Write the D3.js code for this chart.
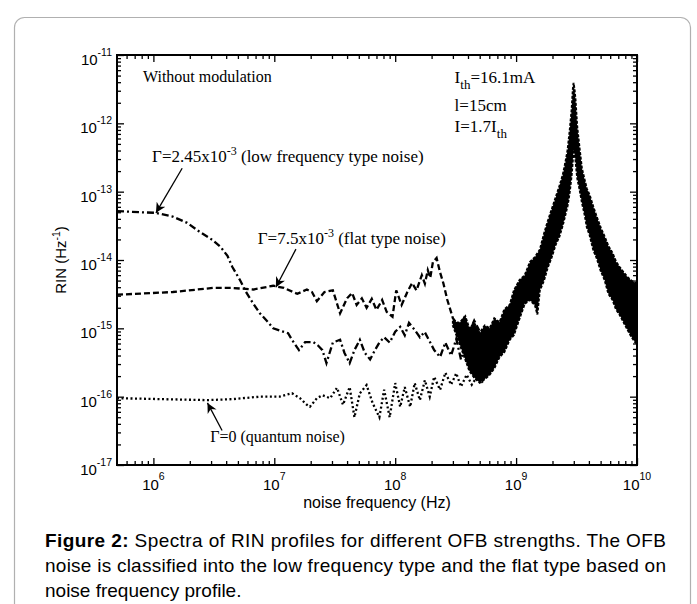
<!DOCTYPE html>
<meta charset="utf-8">
<html lang="en">
<head>
  <script src="https://cdn.jsdelivr.net/npm/d3@7"></script>
  <style>
    body { margin: 0; background: #fff; }
    svg { display: block; }
    .sans { font-family: Arial, "Liberation Sans", sans-serif; }
    .serif { font-family: "Times New Roman", "Liberation Serif", serif; }
  </style>
</head>
<body>
<svg id="fig" width="697" height="604"></svg>
<script>
  // values: [frequency Hz, RIN 1/Hz]
  const lowFreqType = [
    [5.0e5, 5.2e-14], [7.8e5, 5.0e-14], [1.05e6, 4.9e-14], [1.45e6, 4.3e-14], [1.9e6, 3.5e-14],
    [2.4e6, 2.6e-14], [3.1e6, 1.95e-14], [3.6e6, 1.55e-14], [4.1e6, 1.15e-14], [4.5e6, 7.9e-15],
    [5.2e6, 5.1e-15], [5.9e6, 3.3e-15], [6.7e6, 2.3e-15], [7.6e6, 1.66e-15], [8.7e6, 1.28e-15],
    [9.8e6, 1.0e-15], [1.15e7, 9.1e-16], [1.3e7, 8.5e-16], [1.4e7, 6.8e-16], [1.6e7, 4.8e-16],
    [1.8e7, 6.3e-16], [2.1e7, 6.3e-16], [2.3e7, 5.6e-16], [2.5e7, 4.8e-16], [2.7e7, 3.1e-16],
    [3.05e7, 6.2e-16], [3.5e7, 6.8e-16], [3.8e7, 4.4e-16], [4.2e7, 3.1e-16], [4.6e7, 4.8e-16],
    [5.1e7, 6.8e-16], [5.6e7, 4.4e-16], [6.2e7, 3.5e-16], [6.8e7, 4.8e-16], [7.4e7, 6.2e-16],
    [8.1e7, 7.4e-16], [9.0e7, 6.2e-16], [1.0e8, 8.9e-16], [1.1e8, 1.05e-15], [1.2e8, 7.9e-16],
    [1.3e8, 1.2e-15], [1.45e8, 9.5e-16], [1.6e8, 7.4e-16], [1.75e8, 8.9e-16], [1.95e8, 6.2e-16],
    [2.1e8, 4.8e-16], [2.35e8, 3.8e-16], [2.6e8, 6.2e-16], [2.9e8, 4.0e-16], [3.2e8, 7.0e-16],
    [3.5e8, 3.5e-16], [3.9e8, 6.5e-16], [4.3e8, 3.2e-16], [4.8e8, 5.5e-16]
  ];

  const flatType = [
    [5.0e5, 3.1e-15], [1.45e6, 3.4e-15], [3.1e6, 3.9e-15], [4.5e6, 3.9e-15], [6.7e6, 3.7e-15],
    [9.8e6, 4.2e-15], [1.2e7, 3.9e-15], [1.55e7, 3.2e-15], [1.86e7, 3.7e-15], [2.05e7, 3.4e-15],
    [2.25e7, 2.5e-15], [2.6e7, 3.4e-15], [3.05e7, 3.6e-15], [3.5e7, 1.66e-15], [4.0e7, 2.75e-15],
    [4.4e7, 3.3e-15], [4.8e7, 2.2e-15], [5.3e7, 2.75e-15], [5.8e7, 2.0e-15], [6.4e7, 2.7e-15],
    [7.0e7, 1.86e-15], [7.8e7, 2.6e-15], [8.5e7, 1.74e-15], [9.5e7, 1.48e-15], [1.02e8, 3.6e-15],
    [1.13e8, 2.2e-15], [1.26e8, 3.4e-15], [1.38e8, 4.6e-15], [1.5e8, 3.6e-15], [1.66e8, 6.0e-15],
    [1.76e8, 4.5e-15], [1.86e8, 7.1e-15], [1.95e8, 5.5e-15], [2.05e8, 9.3e-15], [2.2e8, 1.07e-14],
    [2.35e8, 6.6e-15], [2.5e8, 4.6e-15], [2.7e8, 2.6e-15], [3.0e8, 1.41e-15], [3.4e8, 1.05e-15],
    [3.7e8, 1.4e-15], [4.1e8, 9.0e-16], [4.5e8, 1.3e-15], [5.0e8, 9.0e-16]
  ];

  const quantumType = [
    [5.0e5, 9.5e-17], [2.8e6, 8.9e-17], [4.5e6, 9.2e-17], [7.6e6, 1.0e-16], [1.1e7, 1.0e-16],
    [1.4e7, 1.12e-16], [1.63e7, 9.5e-17], [1.86e7, 7.6e-17], [1.97e7, 7.1e-17], [2.25e7, 9.5e-17],
    [2.5e7, 1.05e-16], [2.9e7, 9.5e-17], [3.3e7, 1.35e-16], [3.7e7, 7.6e-17], [4.2e7, 1.38e-16],
    [4.6e7, 5.0e-17], [5.1e7, 1.12e-16], [5.8e7, 1.48e-16], [6.5e7, 8.1e-17], [7.4e7, 5.0e-17],
    [8.1e7, 1.26e-16], [9.0e7, 5.0e-17], [1.0e8, 1.58e-16], [1.1e8, 7.1e-17], [1.2e8, 1.38e-16],
    [1.33e8, 7.1e-17], [1.45e8, 1.58e-16], [1.6e8, 8.9e-17], [1.76e8, 1.74e-16], [1.93e8, 1.0e-16],
    [2.1e8, 1.95e-16], [2.35e8, 1.26e-16], [2.6e8, 2.24e-16], [2.9e8, 1.5e-16], [3.2e8, 2.2e-16],
    [3.5e8, 1.4e-16], [3.9e8, 2.1e-16], [4.3e8, 1.5e-16], [4.8e8, 2.0e-16], [5.3e8, 1.6e-16]
  ];

  // relaxation-oscillation peak: the three spectra overlap into one noisy band
  const peakFreq = [3.0e8, 3.4e8, 3.8e8, 4.1e8, 4.5e8, 5.0e8, 5.5e8, 6.05e8, 6.6e8, 7.3e8, 8.0e8,
    8.85e8, 9.6e8, 1.07e9, 1.18e9, 1.3e9, 1.43e9, 1.5e9, 1.57e9, 1.7e9, 1.82e9, 1.97e9, 2.12e9,
    2.28e9, 2.43e9, 2.55e9, 2.67e9, 2.78e9, 2.88e9, 2.95e9, 2.99e9, 3.05e9, 3.1e9, 3.2e9, 3.36e9,
    3.5e9, 3.69e9, 3.85e9, 4.06e9, 4.35e9, 4.64e9, 5.0e9, 5.4e9, 5.8e9, 6.28e9, 6.7e9, 7.18e9,
    7.8e9, 8.36e9, 9.0e9, 9.7e9, 1e10];
  const peakHigh = [1.3e-15, 1.2e-15, 1.5e-15, 1.0e-15, 1.2e-15, 8.5e-16, 1.1e-15, 1.0e-15, 1.4e-15,
    1.23e-15, 1.9e-15, 2.2e-15, 3.6e-15, 5.1e-15, 6.0e-15, 9.3e-15, 1.1e-14, 1.25e-14, 1.41e-14,
    2.4e-14, 3.6e-14, 5.5e-14, 8.1e-14, 1.2e-13, 1.74e-13, 2.6e-13, 4.1e-13, 8.0e-13, 1.58e-12,
    3.2e-12, 3.9e-12, 3.0e-12, 2.2e-12, 9.0e-13, 4.1e-13, 2.2e-13, 1.48e-13, 1.1e-13, 8.9e-14,
    6.0e-14, 4.3e-14, 3.0e-14, 2.2e-14, 1.6e-14, 1.26e-14, 9.5e-15, 7.9e-15, 6.5e-15, 5.6e-15,
    5.0e-15, 4.6e-15, 4.5e-15];
  const peakLow = [1.1e-15, 6.0e-16, 3.5e-16, 2.4e-16, 1.9e-16, 1.6e-16, 1.8e-16, 2.1e-16, 2.6e-16,
    3.8e-16, 4.5e-16, 6.8e-16, 8.0e-16, 1.41e-15, 2.3e-15, 2.6e-15, 2.2e-15, 1.6e-15, 3.6e-15,
    5.0e-15, 7.6e-15, 1.1e-14, 1.66e-14, 2.2e-14, 3.2e-14, 4.5e-14, 6.3e-14, 1.0e-13, 1.74e-13,
    3.0e-13, 4.1e-13, 3.5e-13, 2.9e-13, 1.6e-13, 1.05e-13, 7.0e-14, 4.6e-14, 3.0e-14, 2.3e-14,
    1.4e-14, 1.07e-14, 7.0e-15, 5.1e-15, 3.2e-15, 2.6e-15, 1.9e-15, 1.58e-15, 1.2e-15, 9.5e-16,
    7.5e-16, 6.2e-16, 6.0e-16];

  const xDecades = [1e6, 1e7, 1e8, 1e9, 1e10];
  const yDecades = [1e-17, 1e-16, 1e-15, 1e-14, 1e-13, 1e-12, 1e-11];

  const svg = d3.select('#fig');
  const x = d3.scaleLog().domain([5e5, 1e10]).range([117, 637]);
  const y = d3.scaleLog().domain([1e-17, 1e-11]).range([465, 55]);

  // outer rounded frame
  svg.append('rect').attr('x', 14.5).attr('y', 17.5).attr('width', 676).attr('height', 640)
    .attr('rx', 10).attr('fill', 'none').attr('stroke', '#b0b0b0').attr('stroke-width', 1.2);

  // minor ticks between decades
  const minor = (lo, hi) => {
    const out = [];
    for (let e = Math.floor(Math.log10(lo)); e < Math.log10(hi); e++)
      for (let m = 2; m < 10; m++) {
        const v = m * Math.pow(10, e);
        if (v > lo && v < hi) out.push(v);
      }
    return out;
  };
  const xMinor = minor(5e5, 1e10), yMinor = minor(1e-17, 1e-11);

  const ax = svg.append('g').attr('class', 'ax');
  const addAxis = (gen, vals, size, tr) => {
    const g = ax.append('g').attr('transform', tr)
      .call(gen.tickValues(vals).tickSize(size).tickFormat(''));
    g.select('.domain').remove();
    g.selectAll('line').attr('stroke', '#000').attr('stroke-width', 1.3);
  };
  addAxis(d3.axisBottom(x), xDecades, -7, 'translate(0,465)');
  addAxis(d3.axisBottom(x), xMinor, -4, 'translate(0,465)');
  addAxis(d3.axisTop(x), xDecades, -7, 'translate(0,55)');
  addAxis(d3.axisTop(x), xMinor, -4, 'translate(0,55)');
  addAxis(d3.axisLeft(y), yDecades, -7, 'translate(117,0)');
  addAxis(d3.axisLeft(y), yMinor, -4, 'translate(117,0)');
  addAxis(d3.axisRight(y), yDecades, -7, 'translate(637,0)');
  addAxis(d3.axisRight(y), yMinor, -4, 'translate(637,0)');

  // plot box
  svg.append('rect').attr('x', x.range()[0]).attr('y', y.range()[1])
    .attr('width', x.range()[1] - x.range()[0]).attr('height', y.range()[0] - y.range()[1])
    .attr('fill', 'none').attr('stroke', '#000').attr('stroke-width', 2);

  // tick labels 10^n
  const xl = svg.append('g').attr('class', 'sans').attr('font-size', 15);
  xDecades.forEach(v => {
    const t = xl.append('text').attr('x', x(v)).attr('y', 490).attr('text-anchor', 'middle');
    t.append('tspan').text('10');
    t.append('tspan').attr('dy', -10).attr('font-size', 10.5).text(Math.round(Math.log10(v)));
  });
  const yl = svg.append('g').attr('class', 'sans').attr('font-size', 15);
  yDecades.forEach(v => {
    const t = yl.append('text').attr('x', 112).attr('y', y(v) + 10).attr('text-anchor', 'end');
    t.append('tspan').text('10');
    t.append('tspan').attr('dy', -9).attr('font-size', 10.5).text(Math.round(Math.log10(v)));
  });

  svg.append('text').attr('class', 'sans').attr('font-size', 16).attr('text-anchor', 'middle')
    .attr('x', d3.mean(x.range())).attr('y', 508).text('noise frequency (Hz)');
  const yt = svg.append('text').attr('class', 'sans').attr('font-size', 15).attr('text-anchor', 'middle')
    .attr('transform', `translate(66,${d3.mean(y.range())}) rotate(-90)`);
  yt.append('tspan').text('RIN (Hz');
  yt.append('tspan').attr('dy', -6).attr('font-size', 10.5).text('-1');
  yt.append('tspan').attr('dy', 6).text(')');

  // data
  const plot = svg.append('g');
  const line = d3.line().x(d => x(d[0])).y(d => y(d[1]));
  const styles = [
    [lowFreqType, '7,3,2,3'],
    [flatType, '6,3'],
    [quantumType, '2,2.5']
  ];
  styles.forEach(([data, dash]) => {
    plot.append('path').datum(data).attr('d', line)
      .attr('fill', 'none').attr('stroke', '#000').attr('stroke-width', 2.3)
      .attr('stroke-dasharray', dash);
  });

  const band = peakFreq.map((f, i) => [f, peakLow[i], peakHigh[i]]);
  plot.append('path').datum(band)
    .attr('d', d3.area().x(d => x(d[0])).y0(d => y(d[1])).y1(d => y(d[2])))
    .attr('fill', '#000').attr('stroke', '#000').attr('stroke-width', 2)
    .attr('stroke-dasharray', '3,1.5');

  // annotations (positions in data coordinates)
  const note = svg.append('g').attr('class', 'serif').attr('font-size', 16);
  note.append('text').attr('x', x(8.2e5)).attr('y', y(4.0e-12)).text('Without modulation');

  const params = note.append('g').attr('font-size', 17);
  const t1 = params.append('text').attr('x', x(3.1e8)).attr('y', y(3.9e-12));
  t1.append('tspan').text('I');
  t1.append('tspan').attr('dy', 6).attr('font-size', 13).text('th');
  t1.append('tspan').attr('dy', -6).text('=16.1mA');
  params.append('text').attr('x', x(3.1e8)).attr('y', y(1.5e-12)).text('l=15cm');
  const t3 = params.append('text').attr('x', x(3.1e8)).attr('y', y(7.4e-13));
  t3.append('tspan').text('I=1.7I');
  t3.append('tspan').attr('dy', 6).attr('font-size', 13).text('th');

  const gammaLabel = (pos, size, base, sup, rest) => {
    const t = note.append('text').attr('x', x(pos[0])).attr('y', y(pos[1])).attr('font-size', size);
    t.append('tspan').text(base);
    if (sup) {
      t.append('tspan').attr('dy', -7).attr('font-size', 12).text(sup);
      t.append('tspan').attr('dy', 7).text(rest);
    }
  };
  gammaLabel([9.75e5, 2.7e-13], 17, 'Γ=2.45x10', '-3', ' (low frequency type noise)');
  gammaLabel([7.3e6, 1.7e-14], 17, 'Γ=7.5x10', '-3', ' (flat type noise)');
  gammaLabel([2.95e6, 2.2e-17], 16, 'Γ=0 (quantum noise)');

  svg.append('defs').append('marker').attr('id', 'head')
    .attr('viewBox', '0 0 10 10').attr('refX', 10).attr('refY', 5)
    .attr('markerWidth', 12).attr('markerHeight', 10).attr('markerUnits', 'userSpaceOnUse')
    .attr('orient', 'auto')
    .append('path').attr('d', 'M0,0 L10,5 L0,10 L3,5 Z').attr('fill', '#000');
  const arrows = [
    [[1.73e6, 2.2e-13], [1.05e6, 4.9e-14]],
    [[1.51e7, 1.44e-14], [1.03e7, 4.0e-15]],
    [[3.7e6, 3.2e-17], [2.8e6, 8.1e-17]]
  ];
  arrows.forEach(([a, b]) => {
    svg.append('line').attr('x1', x(a[0])).attr('y1', y(a[1])).attr('x2', x(b[0])).attr('y2', y(b[1]))
      .attr('stroke', '#000').attr('stroke-width', 1.3).attr('marker-end', 'url(#head)');
  });

  // caption
  const cap = svg.append('g').attr('class', 'sans').attr('font-size', 19);
  const c1 = cap.append('text').attr('x', 45).attr('y', 547)
    .attr('textLength', 621).attr('lengthAdjust', 'spacing');
  c1.append('tspan').attr('font-weight', 'bold').text('Figure 2:');
  c1.append('tspan').text(' Spectra of RIN profiles for different OFB strengths. The OFB');
  cap.append('text').attr('x', 45).attr('y', 572).attr('textLength', 621).attr('lengthAdjust', 'spacing')
    .text('noise is classified into the low frequency type and the flat type based on');
  cap.append('text').attr('x', 45).attr('y', 597).text('noise frequency profile.');
</script>
</body>
</html>
